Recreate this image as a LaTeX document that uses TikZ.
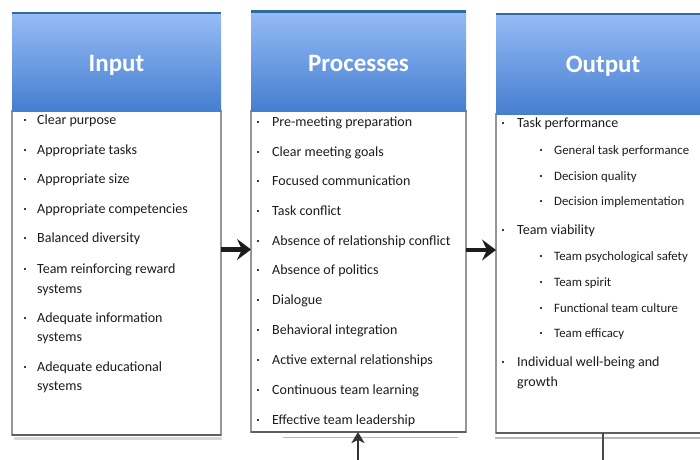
\documentclass[tikz,border=0pt]{standalone}
\usepackage{fontspec}
\setmainfont{Carlito}
\usetikzlibrary{arrows.meta}

\definecolor{headtop}{RGB}{150,188,246}
\definecolor{headbot}{RGB}{70,126,208}
\definecolor{headrim}{RGB}{52,104,160}
\definecolor{ink}{RGB}{28,28,28}
\definecolor{rim}{RGB}{150,150,150}
\definecolor{floor}{RGB}{95,95,95}

\tikzset{
  head/.style={rectangle, anchor=north west, inner sep=0pt, outer sep=0pt,
    top color=headtop, bottom color=headbot, draw=none},
  headtitle/.style={inner sep=0pt, text=white,
    font=\fontsize{25}{28}\selectfont\bfseries},
  body/.style={rectangle, anchor=north west, inner sep=0pt, outer sep=0pt,
    fill=white, draw=rim, line width=1.3pt},
  floorline/.style={floor, line width=2.6pt},
  shadowline/.style={gray!55, line width=1.6pt},
  item/.style={anchor=base west, inner sep=0pt, text=ink,
    font=\fontsize{14}{16}\selectfont},
  subitem/.style={item, font=\fontsize{12.8}{15}\selectfont},
  dot/.style={rectangle, fill=ink!85, inner sep=0pt, minimum size=2.8pt},
  flow/.style={ink, line width=4.2pt,
    -{Stealth[length=14pt, width=21pt, inset=5pt]}},
  feed/.style={ink!90, line width=2.6pt,
    -{Stealth[length=11pt, width=13pt, inset=3pt]}},
}

\begin{document}
\begin{tikzpicture}[x=1pt, y=-1pt]
\useasboundingbox (0,0) rectangle (700,459);
\clip (0,0) rectangle (700,459);
\fill[white] (0,0) rectangle (700,459);

% ---- Input column ----
\draw[shadowline, gray!30, line width=3pt] (14,438.5) -- (222,438.5);
\node[body, minimum width=209pt, minimum height=324pt] (inbody) at (12,111) {};
\draw[floorline] (inbody.south west) -- (inbody.south east);
\node[head, minimum width=209pt, minimum height=98pt] (inhead) at (12,13) {};
\draw[headrim, line width=1.2pt] (inhead.north west) -- (inhead.north east);
\node[headtitle] (intitle) at ([yshift=-3pt]inhead.center) {Input};

% ---- Processes column ----
\draw[shadowline] (283,437.5) -- (458,437.5);
\node[body, minimum width=215pt, minimum height=321pt] (prbody) at (251,111) {};
\draw[floorline] (prbody.south west) -- (prbody.south east);
\node[head, minimum width=215pt, minimum height=101pt] (prhead) at (251,10) {};
\draw[headrim, line width=3pt] ([yshift=-1.5pt]prhead.north west) -- ([yshift=-1.5pt]prhead.north east);
\node[headtitle] (prtitle) at ([yshift=-3pt]prhead.center) {Processes};

% ---- Output column ----
\draw[shadowline] (495,438) -- (700,438);
\node[body, minimum width=214pt, minimum height=319pt] (outbody) at (496,114) {};
\draw[floorline] (outbody.south west) -- (outbody.south east);
\node[head, minimum width=214pt, minimum height=101pt] (outhead) at (496,13) {};
\draw[headrim, line width=2pt] ([yshift=-1pt]outhead.north west) -- ([yshift=-1pt]outhead.north east);
\node[headtitle] (outtitle) at ([yshift=-3pt]outhead.center) {Output};

% ---- Input items ----
\foreach \y/\t/\b [count=\i] in {
  120/Clear purpose/1, 150/Appropriate tasks/1, 179/Appropriate size/1,
  209/Appropriate competencies/1, 238/Balanced diversity/1,
  269/Team reinforcing reward/1, 289/systems/0,
  318/Adequate information/1, 337/systems/0,
  367/Adequate educational/1, 386/systems/0} {
  \node[item] (in-\i) at (37,\y+4) {\t};
  \ifnum\b=1 \node[dot] (in-dot-\i) at (25,\y) {}; \fi
}

% ---- Process items ----
\foreach \y/\t [count=\i] in {
  122/Pre-meeting preparation, 152/Clear meeting goals,
  181/Focused communication, 211/Task conflict,
  241/Absence of relationship conflict, 270/Absence of politics,
  300/Dialogue, 330/Behavioral integration,
  360/Active external relationships, 390/Continuous team learning,
  420/Effective team leadership} {
  \node[item] (pr-\i) at (272,\y+4) {\t};
  \node[dot] (pr-dot-\i) at (258,\y) {};
}

% ---- Output items ----
\foreach \y/\t [count=\i] in {
  123/Task performance, 230/Team viability,
  362/Individual well-being and} {
  \node[item] (out-\i) at (517,\y+4) {\t};
  \node[dot] (out-dot-\i) at (503,\y) {};
}
\node[item] (out-4) at (517,386) {growth};
\foreach \y/\t [count=\i] in {
  150/General task performance, 176/Decision quality,
  201/Decision implementation, 256/Team psychological safety,
  282/Team spirit, 308/Functional team culture, 333/Team efficacy} {
  \node[subitem] (sub-\i) at (554,\y+4) {\t};
  \node[dot] (sub-dot-\i) at (541,\y) {};
}

% ---- Connectors ----
\coordinate (flowA) at (0,249.5);
\coordinate (flowB) at (0,250);
\draw[flow] (inbody.east |- flowA) -- (prbody.west |- flowA);
\draw[flow] (prbody.east |- flowB) -- (outbody.west |- flowB);

\coordinate (feedin) at (358,462);
\draw[feed] (feedin) -- (prbody.south -| feedin);
\coordinate (feedout) at (603,462);
\draw[ink!80, line width=1.6pt] (outbody.south -| feedout) -- (feedout);
\end{tikzpicture}
\end{document}
